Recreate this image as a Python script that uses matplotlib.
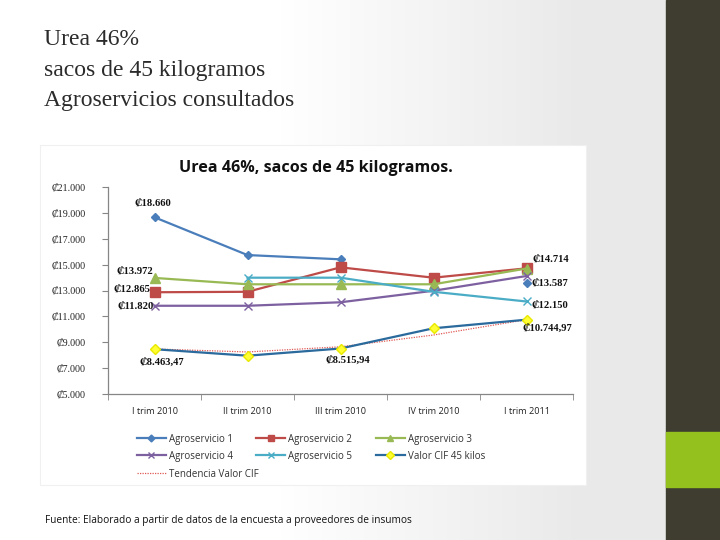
import numpy as np
import matplotlib
matplotlib.use("Agg")
import matplotlib.pyplot as plt
from matplotlib.lines import Line2D
from matplotlib.patches import Rectangle

# ---------------- data ----------------
categories = ["I trim 2010", "II trim 2010", "III trim 2010", "IV trim 2010", "I trim 2011"]
agro1 = [18660, 15740, 15410, np.nan, 13587]
agro2 = [12865, 12900, 14790, 13990, 14714]
agro3 = [13972, 13480, 13480, 13480, 14700]
agro4 = [11820, 11820, 12090, 12980, 14120]
agro5 = [np.nan, 13990, 13990, 12900, 12150]
cif = [8463.47, 7960, 8515.94, 10080, 10744.97]
trend_cif = [8480, 8250, 8650, 9560, 10745]
yticks = [5000, 7000, 9000, 11000, 13000, 15000, 17000, 19000, 21000]
ytick_labels = ["₡5.000", "₡7.000", "₡9.000", "₡11.000", "₡13.000", "₡15.000",
                "₡17.000", "₡19.000", "₡21.000"]
title_lines = ["Urea 46%", "sacos de 45 kilogramos", "Agroservicios consultados"]

W, H = 720, 540
fig = plt.figure(figsize=(7.2, 5.4), dpi=100)

# ---------------- slide background ----------------
bg = fig.add_axes([0, 0, 1, 1], zorder=0)
bg.set_xlim(0, W); bg.set_ylim(H, 0); bg.axis("off")
xs = np.arange(W)
grad = np.clip((xs - 280) / 300.0, 0, 1)
vals = 1.0 - grad * (1.0 - 0.915)
img = np.tile(vals, (H, 1))
bg.imshow(np.dstack([img, img, img]), extent=[0, W, H, 0], aspect="auto", zorder=0)
bg.add_patch(Rectangle((666, 0), 54, 540, color="#3e3d2f", zorder=1))
bg.add_patch(Rectangle((666, 432), 54, 55, color="#95c11f", zorder=2))
# chart area box
bg.add_patch(Rectangle((40, 145), 546, 340, facecolor="white", edgecolor="#f0f0f0", lw=0.8, zorder=1))

title_font = ["Liberation Serif", "DejaVu Serif"]
for yb, line in zip([45, 76, 106], title_lines):
    bg.text(44, yb, line, fontsize=17, family=title_font, color="#2b2b2b",
            va="baseline", ha="left", zorder=3)
bg.text(45, 521, "Fuente: Elaborado a partir de datos de la encuesta a proveedores de insumos",
        fontsize=7.3, family=["Open Sans", "DejaVu Sans"], color="#111111",
        va="center", ha="left", zorder=3)
bg.text(316, 168, "Urea 46%, sacos de 45 kilogramos.", fontsize=11.6, fontweight="bold",
        family=["Open Sans", "DejaVu Sans"], color="#111111", ha="center", va="center", zorder=3)

# ---------------- chart ----------------
ax = fig.add_axes([108 / W, 1 - 394 / H, (573 - 108) / W, (394 - 187) / H], zorder=2)
ax.patch.set_alpha(0)
x = np.arange(len(categories))

s1 = dict(color="#4a7ebb", marker="D", ms=4.5, lw=1.6, label="Agroservicio 1")
s2 = dict(color="#be4b48", marker="s", ms=6.5, lw=1.6, label="Agroservicio 2")
s3 = dict(color="#98b954", marker="^", ms=6.5, lw=1.6, label="Agroservicio 3")
s4 = dict(color="#7d60a0", marker="x", ms=6, mew=1.0, lw=1.6, label="Agroservicio 4")
s5 = dict(color="#4bacc6", marker="x", ms=6, mew=1.0, lw=1.6, label="Agroservicio 5")
s6 = dict(color="#2a6a9c", marker="D", ms=5, mfc="#ffff33", mec="#e8e800", lw=1.6,
          label="Valor CIF 45 kilos")
s7 = dict(color="#e05a55", ls=(0, (1, 1)), lw=0.9, label="Tendencia Valor CIF")

ax.plot(x, trend_cif, zorder=3, **s7)
ax.plot(x, agro1, zorder=4, **s1)
ax.plot(x, agro2, zorder=4, **s2)
ax.plot(x, agro3, zorder=4, **s3)
ax.plot(x, agro4, zorder=4, **s4)
ax.plot(x, agro5, zorder=4, **s5)
ax.plot(x, cif, zorder=5, **s6)

ax.set_xlim(-0.5, len(categories) - 0.5)
ax.set_ylim(5000, 21000)
ax.set_yticks(yticks)
ax.set_yticklabels(ytick_labels, family=["Liberation Serif", "DejaVu Serif"], fontsize=7.2,
                   color="#222222")
ax.set_xticks(x)
ax.set_xticklabels(categories, family=["Open Sans", "DejaVu Sans"], fontsize=6.6, color="#222222")
ax.set_xticks(np.arange(-0.5, len(categories)), minor=True)
ax.tick_params(axis="x", which="major", length=0, pad=9)
ax.tick_params(axis="x", which="minor", length=4, color="#868686", direction="out")
ax.tick_params(axis="y", length=4, color="#868686", direction="out", pad=12)
for s in ["top", "right"]:
    ax.spines[s].set_visible(False)
for s in ["left", "bottom"]:
    ax.spines[s].set_color("#868686")
    ax.spines[s].set_linewidth(0.9)

# data labels
lf = dict(family=["Liberation Serif", "DejaVu Serif"], fontsize=7.6, color="#111111",
          fontweight="bold")
def lab(xi, yv, text, dx, dy, ha="center"):
    ax.annotate(text, (xi, yv), xytext=(dx * 0.72, dy * 0.72), textcoords="offset points",
                ha=ha, va="center", zorder=6, **lf)

lab(0, agro1[0], "₡18.660", -2, 14)
lab(0, agro3[0], "₡13.972", -1, 7, ha="right")
lab(0, agro2[0], "₡12.865", -4, 3, ha="right")
lab(0, agro4[0], "₡11.820", -1, 0, ha="right")
lab(0, cif[0], "₡8.463,47", 7, -13)
lab(2, cif[2], "₡8.515,94", 7, -12)
lab(4, agro2[4], "₡14.714", 6, 9, ha="left")
lab(4, agro1[4], "₡13.587", 5, 0, ha="left")
lab(4, agro5[4], "₡12.150", 5, -4, ha="left")
lab(4, cif[4], "₡10.744,97", 21, -9)

# legend (row-major order as in the reference)
h1 = Line2D([], [], **{**s1, "ms": 3.5})
h2 = Line2D([], [], **{**s2, "ms": 5})
h3 = Line2D([], [], **{**s3, "ms": 5})
h4 = Line2D([], [], **{**s4, "ms": 5})
h5 = Line2D([], [], **{**s5, "ms": 5})
h6 = Line2D([], [], **{**s6, "ms": 4})
h7 = Line2D([], [], **s7)
legprop = {"family": ["Open Sans", "DejaVu Sans"], "size": 7}
leg = fig.legend(handles=[h1, h4, h2, h5, h3, h6], loc="upper left",
                 bbox_to_anchor=(128 / W, 1 - 425 / H),
                 ncol=3, frameon=False, prop=legprop, borderaxespad=0.5,
                 handlelength=3.0, columnspacing=2.4, handletextpad=0.3, labelspacing=0.6)
for t in leg.get_texts():
    t.set_color("#333333")
leg2 = fig.legend(handles=[h7], loc="upper left",
                  bbox_to_anchor=(128 / W, 1 - 460 / H),
                  frameon=False, prop=legprop, borderaxespad=0.5,
                  handlelength=3.0, handletextpad=0.3)
for t in leg2.get_texts():
    t.set_color("#333333")

fig.savefig("out.png", dpi=100)
